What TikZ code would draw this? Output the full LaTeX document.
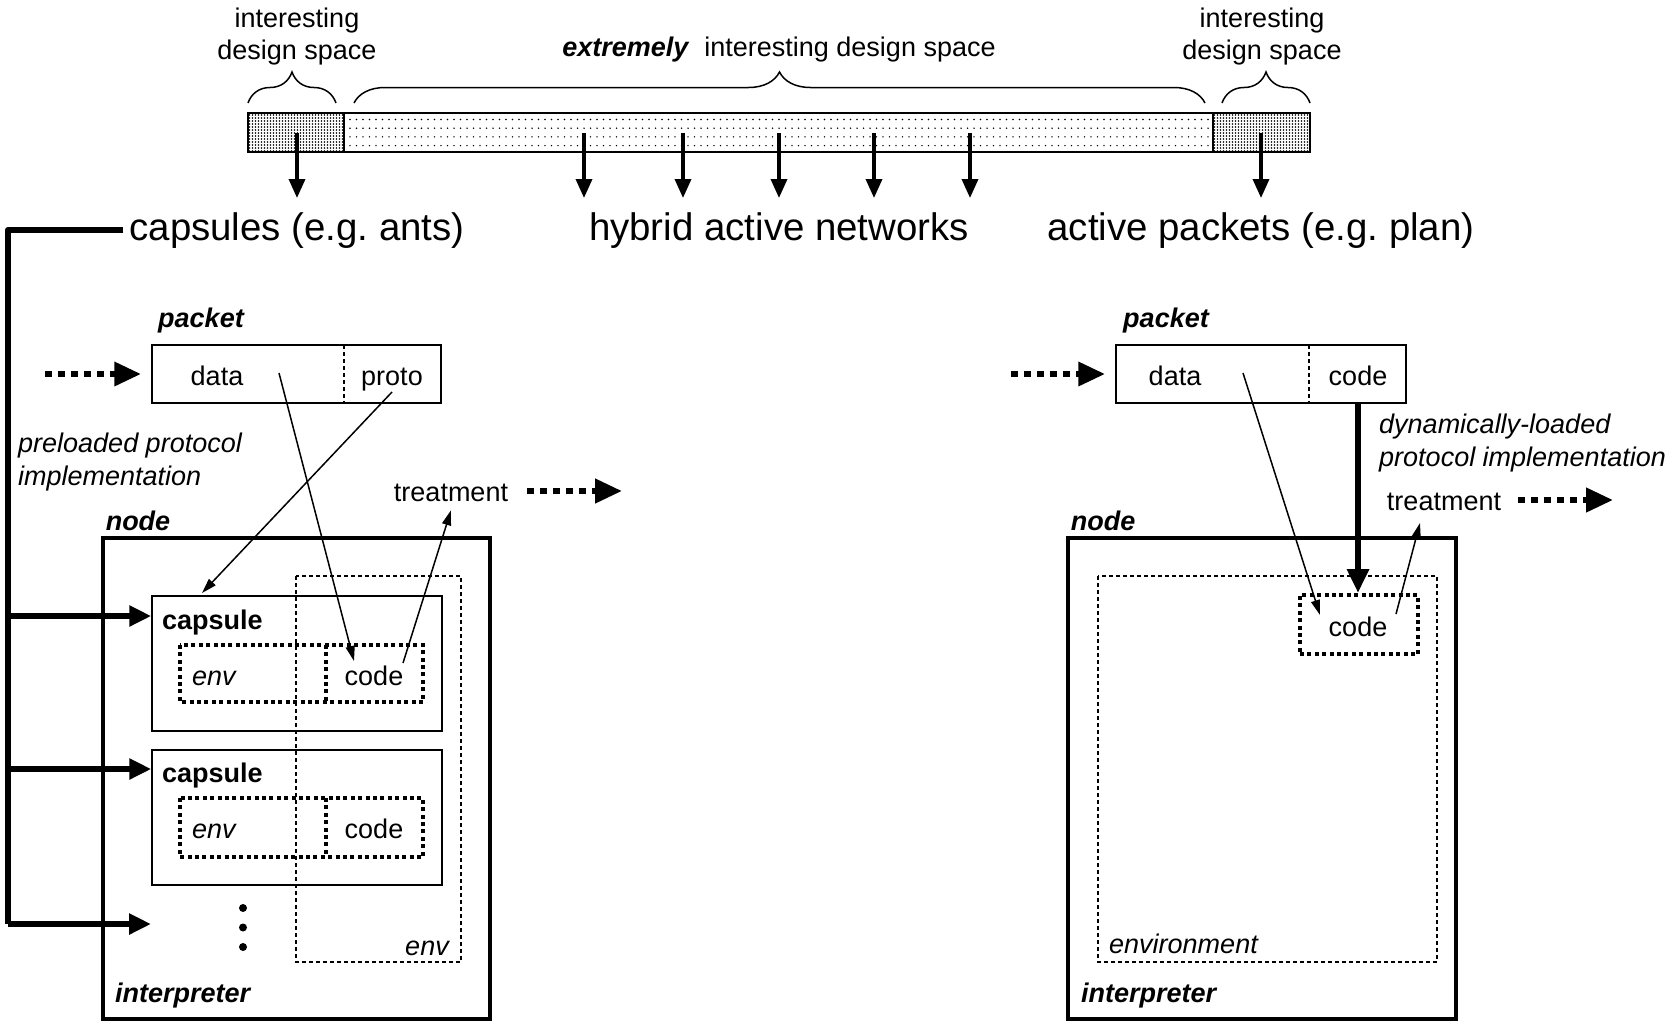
\documentclass[tikz,border=0pt]{standalone}
\usepackage{fontspec}
\setmainfont{Liberation Sans}
\usetikzlibrary{arrows.meta,decorations.pathreplacing,calc}
\frenchspacing

\begin{document}
\begin{tikzpicture}[x=1pt,y=-1pt,
  sm/.style={font=\fontsize{27}{32}\selectfont, inner sep=0pt, text height=20.2pt, text depth=0pt},
  big/.style={font=\fontsize{38.4}{44}\selectfont, inner sep=0pt, text height=27.6pt, text depth=6pt},
  lbl/.style={sm, font=\fontsize{27}{32}\selectfont\bfseries\itshape},
  capl/.style={sm, font=\fontsize{27}{32}\selectfont\bfseries},
  itl/.style={sm, font=\fontsize{27}{32}\selectfont\itshape},
  thinbox/.style={draw, line width=1.5pt, inner sep=0pt},
  nodebox/.style={draw, line width=4pt, inner sep=0pt},
  thindash/.style={line width=1.5pt, dash pattern=on 4pt off 3pt},
  thickdot/.style={line width=4pt, dash pattern=on 4pt off 3.4pt},
  thinarrow/.style={line width=1.5pt, -{Triangle[length=15pt,width=9pt]}},
  downarrow/.style={line width=3.5pt, -{Triangle[length=19pt,width=16pt]}},
  busline/.style={line width=6pt, line join=round},
  busarrow/.style={line width=6pt, -{Triangle[length=22pt,width=20pt]}},
  loadarrow/.style={line width=6pt, -{Triangle[length=24pt,width=21pt]}},
  dotarrow/.style={line width=6.5pt, dash pattern=on 6.5pt off 6.5pt, -{Triangle[length=27pt,width=23pt]}},
  brc/.style={line width=1.5pt, decorate, decoration={brace, amplitude=31pt}},
]
\useasboundingbox (0,0) rectangle (1670,1021);

% ---------- design-space bar ----------
\node[draw, line width=2pt, inner sep=0pt, minimum width=1062, minimum height=39] (bar) at (779,132.5) {};
\foreach \y in {119.5,128.2,136.9,145.6}
  \foreach \x in {350,356.5,...,1209}
    \fill (\x,\y) circle (0.8pt);
\foreach \xa in {248,1213}{
  \foreach \y in {115,118,...,151}
    \foreach \i in {1.5,4.5,...,96}
      \fill (\xa+\i,\y) circle (0.95pt);
}
\draw[line width=2pt] (248,113) rectangle (344,152);
\draw[line width=2pt] (1213,113) rectangle (1310,152);

% braces and their captions
\draw[brc] (248,103) -- (336,103);
\draw[brc] (354,103) -- (1205,103);
\draw[brc] (1222,103) -- (1310,103);
\node[sm] (il1) at (297,17) {interesting};
\node[sm] (il2) at (297,49.5) {design space};
\node[sm] (ir1) at (1262,17) {interesting};
\node[sm] (ir2) at (1262,49.5) {design space};
\node[sm] (im) at (779,46) {\textbf{\textit{extremely}}\hspace{0.55em}interesting design space};

% ---------- the three families ----------
\node[big] (caps) at (297,230) {capsules (e.g. ants)};
\node[big] (hyb) at (779,230) {hybrid active networks};
\node[big] (apk) at (1261,230) {active packets (e.g. plan)};

\draw[downarrow] (297,133) -- (297,198);
\foreach \x in {584,683,779,874,970}
  \draw[downarrow] (\x,133) -- (\x,198);
\draw[downarrow] (1261,133) -- (1261,198);

% ---------- capsule side ----------
\node[lbl] (pk1l) at (201,317) {packet};
\node[thinbox, minimum width=289, minimum height=58] (pk1) at (296.5,374) {};
\draw[thindash] (344,345) -- (344,403);
\node[sm] (d1) at (217,375) {data};
\node[sm] (proto) at (392,375) {proto};
\coordinate (in1) at (45,374);
\draw[dotarrow, shorten >=10pt] (in1) -- (pk1.west);

\node[itl, anchor=west] (pre1) at (18,442) {preloaded protocol};
\node[itl, anchor=west] (pre2) at (18,475) {implementation};

\node[sm] (tr1) at (451,491) {treatment};
\draw[dotarrow] ($(tr1.east)+(19,0)$) -- ++(95,0);

\node[lbl] (nd1l) at (138,520) {node};
\node[nodebox, minimum width=387, minimum height=481] (nd1) at (296.5,778.5) {};
\draw[thindash] (296,576) rectangle (461,962);
\node[itl] (envo) at (427,945) {env};
\node[lbl, anchor=west] (int1) at (115,992) {interpreter};

\node[thinbox, minimum width=290, minimum height=135] (cap1) at (297,663.5) {};
\node[capl, anchor=west] (cap1l) at (162,619) {capsule};
\draw[thickdot] (180,645) rectangle (423,702);
\draw[thickdot] (326,645) -- (326,702);
\node[itl, anchor=west] (env1) at (192,675) {env};
\node[sm] (code1) at (374,675) {code};

\node[thinbox, minimum width=290, minimum height=135] (cap2) at (297,817.5) {};
\node[capl, anchor=west] (cap2l) at (162,772) {capsule};
\draw[thickdot] (180,798) rectangle (423,857);
\draw[thickdot] (326,798) -- (326,857);
\node[itl, anchor=west] (env2) at (192,828) {env};
\node[sm] (code2) at (374,828) {code};

\foreach \y in {908,927.5,947}
  \fill (243,\y) circle (4pt);

% packet fields feeding the capsule
\coordinate (d1s) at (279,373);
\coordinate (c1t) at (354,661);
\coordinate (p1s) at (392,392);
\coordinate (cap1t) at (202,593);
\coordinate (c1s) at (403,663);
\draw[thinarrow] (d1s) -- (c1t);
\draw[thinarrow] (p1s) -- (cap1t);
\draw[thinarrow] (c1s) -- ($(tr1.south)+(0,9)$);

% bus of preloaded implementations
\coordinate (bus0) at (8,230);
\coordinate (bus3) at (8,924);
\coordinate (br1) at (8,616);
\coordinate (br2) at (8,769);
\draw[busline] ($(caps.west)+(-6,0)$) -- (bus0) -- (bus3);
\draw[busarrow] (bus3) -- (151,924);
\draw[busarrow] (br1) -- (cap1.west |- br1);
\draw[busarrow] (br2) -- (cap2.west |- br2);

% ---------- active-packet side ----------
\node[lbl] (pk2l) at (1166,317) {packet};
\node[thinbox, minimum width=290, minimum height=58] (pk2) at (1261,374) {};
\draw[thindash] (1309,345) -- (1309,403);
\node[sm] (d2) at (1175,375) {data};
\node[sm] (code2p) at (1358,375) {code};
\coordinate (in2) at (1011,374);
\draw[dotarrow, shorten >=10pt] (in2) -- (pk2.west);

\node[itl, anchor=west] (dyn1) at (1379,423) {dynamically-loaded};
\node[itl, anchor=west] (dyn2) at (1379,456) {protocol implementation};

\node[sm] (tr2) at (1444,500) {treatment};
\draw[dotarrow] ($(tr2.east)+(17,0)$) -- ++(95,0);

\node[lbl] (nd2l) at (1103,520) {node};
\node[nodebox, minimum width=388, minimum height=481] (nd2) at (1262,778.5) {};
\draw[thindash] (1098,576) rectangle (1437,962);
\node[itl, anchor=west] (envr) at (1109,943) {environment};
\node[lbl, anchor=west] (int2) at (1081,992) {interpreter};

\node[draw, thickdot, inner sep=0pt, minimum width=118, minimum height=59] (rc) at (1359,624.5) {};
\node[sm] (rcode) at (1358,626) {code};

\draw[loadarrow] (1358,403) -- (rc.north -| 1358,0);
\coordinate (d2s) at (1243,373);
\coordinate (rct) at (1320,615);
\coordinate (rcs) at (1396,614);
\draw[thinarrow] (d2s) -- (rct);
\draw[thinarrow] (rcs) -- (1420,523);
\end{tikzpicture}
\end{document}
